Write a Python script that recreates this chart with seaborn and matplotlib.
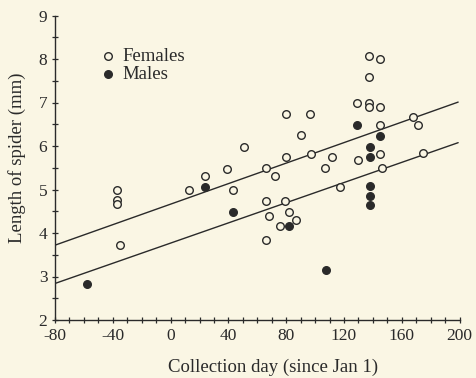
import numpy as np
import pandas as pd
import matplotlib
matplotlib.use("Agg")
import matplotlib.pyplot as plt
import seaborn as sns
from matplotlib.ticker import MultipleLocator

# ---- data ----
female_day = [-37, -37, -37, -35, 13, 24, 39, 43, 51, 66, 72, 66, 68, 66, 79, 82, 87, 76,
              80, 80, 90, 96.5, 97, 107, 112, 117, 129, 130, 137.5, 137.5, 137.5, 137.5,
              145, 145, 145, 145, 146, 168, 171, 175]
female_len = [5.0, 4.75, 4.67, 3.73, 5.0, 5.3, 5.48, 5.0, 5.98, 5.49, 5.31, 4.74, 4.40, 3.84,
              4.74, 4.49, 4.30, 4.17, 6.74, 5.74, 6.25, 6.74, 5.81, 5.49, 5.74, 5.06, 6.99,
              5.67, 8.08, 7.58, 6.99, 6.89, 7.99, 6.90, 6.49, 5.81, 5.49, 6.66, 6.49, 5.84]
male_day = [-58, 24, 43, 82, 107.5, 129, 138, 138, 138, 138, 138, 145]
male_len = [2.83, 5.05, 4.49, 4.17, 3.15, 6.49, 5.98, 5.74, 5.09, 4.84, 4.65, 6.23]

# fitted regression lines (value at day -80, slope per day)
female_fit = (3.72, 0.01179)
male_fit = (2.84, 0.01160)
fit_range = [-80, 199]

x_ticks = [-80, -40, 0, 40, 80, 120, 160, 200]
y_ticks = [2, 3, 4, 5, 6, 7, 8, 9]

# ---- styling ----
bg = "#faf6e4"
ink = "#2a2a2a"
sns.set_theme(style="ticks")
plt.rcParams["font.family"] = ["Liberation Serif", "DejaVu Serif"]
plt.rcParams["axes.unicode_minus"] = False

fig = plt.figure(figsize=(4.76, 3.78), dpi=100, facecolor=bg)
ax = fig.add_axes([55 / 476, 1 - 320 / 378, 404.6 / 476, 304.5 / 378])
ax.set_facecolor(bg)

df_f = pd.DataFrame({"day": female_day, "length": female_len})
df_m = pd.DataFrame({"day": male_day, "length": male_len})

xs = np.array(fit_range, dtype=float)
for a, b in (female_fit, male_fit):
    line_df = pd.DataFrame({"day": xs, "length": a + b * (xs + 80)})
    sns.lineplot(data=line_df, x="day", y="length", ax=ax, color=ink, lw=1.0)

sns.scatterplot(data=df_f, x="day", y="length", ax=ax, s=30, marker="o",
                facecolor=bg, edgecolor=ink, linewidth=1.0, label="Females", zorder=3)
sns.scatterplot(data=df_m, x="day", y="length", ax=ax, s=30, marker="o",
                facecolor=ink, edgecolor=ink, linewidth=1.0, label="Males", zorder=3)

ax.set_xlim(-80, 200)
ax.set_ylim(2, 9)
ax.set_xticks(x_ticks)
ax.set_yticks(y_ticks)
ax.xaxis.set_minor_locator(MultipleLocator(10))
ax.yaxis.set_minor_locator(MultipleLocator(0.5))
ax.tick_params(which="both", direction="inout", length=5, width=0.9, color=ink,
               labelsize=12.5, labelcolor=ink)
ax.tick_params(axis="x", which="major", pad=3.5)
ax.tick_params(axis="y", which="major", pad=3)
for side in ("top", "right"):
    ax.spines[side].set_visible(False)
for side in ("left", "bottom"):
    ax.spines[side].set_color(ink)
    ax.spines[side].set_linewidth(1.0)

ax.set_xlabel("Collection day (since Jan 1)", fontsize=13.5, color=ink)
ax.set_ylabel("Length of spider (mm)", fontsize=13.5, color=ink)
ax.xaxis.set_label_coords(0.540, -0.128)
ax.yaxis.set_label_coords(-0.072, 0.532)

leg = ax.legend(loc="upper left", bbox_to_anchor=(0.1125, 0.895), frameon=False,
                fontsize=13.5, handletextpad=0.35, labelspacing=0.05, borderaxespad=0,
                borderpad=0, handlelength=0.8, labelcolor=ink)

fig.savefig("out.png", dpi=100, facecolor=bg)
